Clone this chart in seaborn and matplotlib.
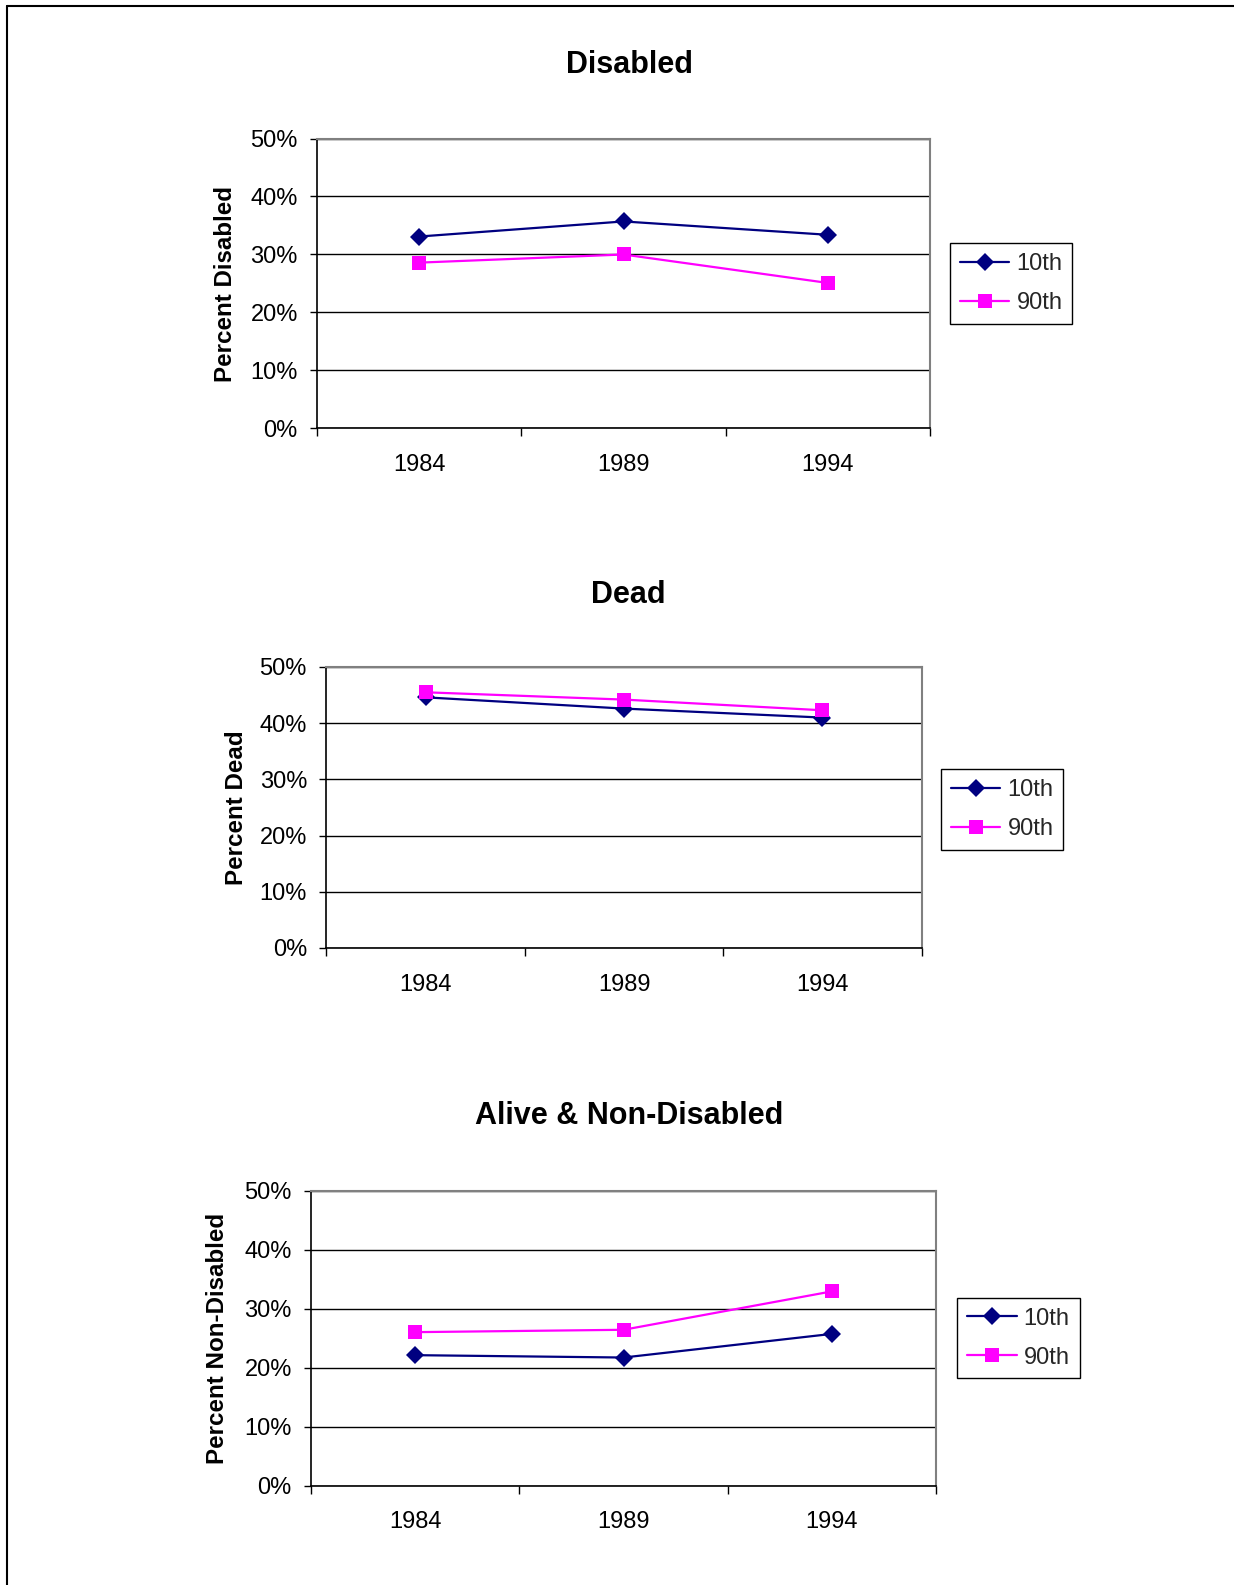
import matplotlib
matplotlib.use('Agg')
import matplotlib.pyplot as plt
import seaborn as sns
import pandas as pd
from matplotlib.ticker import PercentFormatter
from matplotlib.lines import Line2D

# ---- data ----
years = [1984, 1989, 1994]
series_names = ['10th', '90th']
disabled_10 = [33.1, 35.7, 33.4]
disabled_90 = [28.6, 30.0, 25.1]
dead_10 = [44.6, 42.6, 41.0]
dead_90 = [45.5, 44.2, 42.3]
alive_10 = [22.1, 21.7, 25.7]
alive_90 = [26.0, 26.4, 32.9]
titles = ['Disabled', 'Dead', 'Alive & Non-Disabled']
ylabels = ['Percent Disabled', 'Percent Dead', 'Percent Non-Disabled']
yticks = [0, 10, 20, 30, 40, 50]

panels = [(disabled_10, disabled_90), (dead_10, dead_90), (alive_10, alive_90)]

sns.set_theme(style='white')
plt.rcParams['font.family'] = ['Liberation Sans', 'DejaVu Sans']

W, H = 1234, 1585
fig = plt.figure(figsize=(W / 100, H / 100), dpi=100)
fig.patch.set_facecolor('white')

def frac_rect(left, right, top, bottom):
    return [left / W, 1 - bottom / H, (right - left) / W, (bottom - top) / H]

rects = [
    frac_rect(317.3, 929.8, 138.5, 428.5),
    frac_rect(326.4, 921.7, 667.0, 948.0),
    frac_rect(311.3, 935.8, 1190.5, 1485.6),
]
title_pos = [(629.6, 64.7), (628.6, 595.2), (629.6, 1115.7)]
legend_pos = [(950.0, 243.5), (940.9, 769.1), (957.0, 1297.6)]

palette = {'10th': '#000080', '90th': '#FF00FF'}
markers = {'10th': 'D', '90th': 's'}

for i, (s10, s90) in enumerate(panels):
    df = pd.DataFrame({
        'year': years * 2,
        'value': list(s10) + list(s90),
        'series': [series_names[0]] * len(years) + [series_names[1]] * len(years),
    })
    ax = fig.add_axes(rects[i])
    ax.set_facecolor('white')
    sns.lineplot(data=df, x='year', y='value', hue='series', style='series',
                 hue_order=series_names, style_order=series_names,
                 markers=markers, dashes=False, palette=palette,
                 linewidth=1.6, markersize=9.5, markeredgewidth=0,
                 legend=False, ax=ax)

    ax.set_ylim(0, 50)
    ax.set_yticks(yticks)
    ax.yaxis.set_major_formatter(PercentFormatter(xmax=100, decimals=0))
    ax.set_axisbelow(True)
    ax.yaxis.grid(True, color='black', linewidth=1.0)
    ax.xaxis.grid(False)

    ax.set_xlim(years[0] - 2.5, years[-1] + 2.5)
    bounds = [years[0] - 2.5] + [(a + b) / 2 for a, b in zip(years[:-1], years[1:])] + [years[-1] + 2.5]
    ax.set_xticks(bounds)
    ax.set_xticklabels([])
    ax.set_xticks(years, minor=True)
    ax.set_xticklabels([str(y) for y in years], minor=True)
    ax.tick_params(axis='x', which='major', length=6, width=1, color='black', direction='out', bottom=True)
    ax.tick_params(axis='x', which='minor', length=0, pad=18.5, labelsize=17, labelcolor='black')
    ax.tick_params(axis='y', which='major', length=5, width=1, color='black', direction='out', left=True,
                   pad=9, labelsize=17, labelcolor='black')

    for side in ['top', 'right']:
        ax.spines[side].set_color('#808080')
        ax.spines[side].set_linewidth(1.5)
    for side in ['left', 'bottom']:
        ax.spines[side].set_color('black')
        ax.spines[side].set_linewidth(1.2)

    ax.set_xlabel('')
    ax.set_ylabel(ylabels[i], fontsize=17.4, fontweight='bold', color='black')
    ax.yaxis.set_label_coords(-0.131, 0.5)

    tx, ty = title_pos[i]
    fig.text(tx / W, 1 - ty / H, titles[i], ha='center', va='center',
             fontsize=22, fontweight='bold', color='black')

    lx, ly = legend_pos[i]
    leg = ax.legend(handles=ax.lines[:2], labels=series_names, loc='upper left',
                    bbox_to_anchor=(lx / W, 1 - ly / H), bbox_transform=fig.transFigure,
                    borderaxespad=0, fancybox=False, framealpha=1, fontsize=17,
                    handlelength=2.1, handletextpad=0.3, labelspacing=0.72,
                    borderpad=0.42, markerscale=1.0)
    leg.get_frame().set_edgecolor('black')
    leg.get_frame().set_linewidth(1.0)

# page frame (left and top edges)
fig.add_artist(Line2D([7 / W, 7 / W], [0, 1 - 6 / H], transform=fig.transFigure, color='black', lw=1.5))
fig.add_artist(Line2D([7 / W, 1], [1 - 6 / H, 1 - 6 / H], transform=fig.transFigure, color='black', lw=1.5))

fig.savefig('out.png', dpi=100, facecolor='white')
